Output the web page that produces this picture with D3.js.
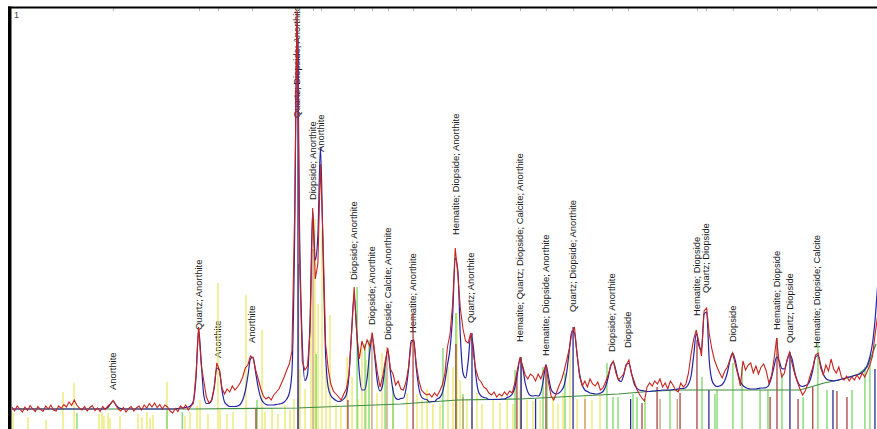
<!DOCTYPE html>
<html>
<head>
<meta charset="utf-8">
<script src="https://cdn.jsdelivr.net/npm/d3@7"></script>
<style>
  html, body { margin: 0; padding: 0; background: #fff; }
  svg { display: block; }
</style>
</head>
<body>
<svg id="chart" width="877" height="429"></svg>
<script>
// Scan grid: 2θ start and step in degrees
const scanStart = 10.0;
const scanStep = 0.15;

// Observed counts along the scan grid
const observed = [
  44,36,46,40,34,44,37,47,40,35,
  45,39,35,46,40,48,38,36,46,41,
  49,44,54,47,58,48,42,38,45,36,
  43,47,37,42,35,45,39,46,50,57,
  48,40,36,43,34,41,45,36,42,46,
  38,48,42,51,44,52,43,49,40,48,
  44,36,32,41,35,46,41,48,38,45,
  52,110,204,128,96,64,52,58,84,132,
  118,82,70,80,74,86,78,84,92,104,
  122,128,146,142,118,100,80,66,60,64,
  58,68,74,80,92,104,118,130,156,420,
  838,330,135,118,126,196,442,300,330,530,
  380,170,120,90,76,70,64,58,70,80,
  110,190,284,190,140,176,160,178,166,192,
  150,112,84,104,136,162,120,110,88,96,
  80,78,94,124,172,178,128,96,78,72,
  68,70,64,72,66,76,88,110,164,190,
  250,362,310,240,200,176,172,192,150,118,
  100,94,84,80,72,68,74,64,70,66,
  74,68,76,72,92,120,144,126,108,100,
  110,106,96,110,100,114,128,92,66,58,
  72,86,98,116,138,160,192,204,150,104,
  86,96,84,100,90,86,94,78,82,94,
  108,126,136,112,98,104,110,128,138,110,
  96,80,70,62,56,84,92,86,96,90,
  100,84,92,80,96,88,78,74,92,84,
  90,112,150,180,198,174,146,236,242,190,
  160,138,124,112,102,116,124,138,152,130,
  110,86,136,118,128,132,112,126,110,124,
  130,116,92,106,140,182,130,104,112,138,
  154,130,110,94,80,68,76,90,108,124,
  148,152,122,108,128,116,140,120,112,124,
  104,98,106,96,104,98,108,100,112,104,
  116,128,146,190,228
];

// Calculated (fitted) profile on the same grid
const calculated = [
  40,40,40,40,40,40,40,40,40,40,
  40,40,40,40,40,40,40,40,40,40,
  40,40,40,40,40,40,40,40,40,40,
  40,40,40,40,40,40,41,43,50,56,
  49,43,41,40,40,40,40,40,40,40,
  40,40,40,40,40,40,40,40,40,40,
  40,40,40,40,41,42,42,43,44,47,
  56,103,199,135,67,51,51,57,82,122,
  118,78,54,48,45,45,45,46,49,58,
  76,106,140,144,113,83,62,53,49,48,
  48,48,49,50,51,54,60,72,114,366,
  832,376,171,97,109,219,436,338,386,564,
  355,147,83,67,61,57,55,56,60,69,
  107,193,267,195,112,78,78,101,154,184,
  142,93,76,88,129,157,114,77,62,59,
  61,62,80,120,177,177,121,81,64,60,
  59,54,55,55,60,63,72,95,128,161,
  228,342,317,183,112,102,136,188,164,105,
  74,66,63,62,59,59,59,59,59,60,
  60,63,65,70,83,111,139,124,92,74,
  67,66,67,66,73,98,129,104,79,72,
  70,72,77,87,113,157,196,192,149,110,
  88,78,75,72,71,70,70,72,75,85,
  103,127,134,117,98,95,108,129,131,112,
  91,82,78,77,76,75,75,76,76,77,
  77,78,78,78,78,79,79,80,81,81,
  83,90,106,147,191,167,158,230,234,137,
  98,88,85,86,89,97,113,138,152,138,
  113,95,87,83,81,80,80,80,81,82,
  82,83,88,103,125,144,136,121,120,136,
  150,139,113,96,87,85,87,89,99,119,
  144,147,128,110,101,98,97,96,97,98,
  100,101,103,104,105,107,108,110,113,118,
  128,145,172,220,290
];

// Background anchor points [2θ, counts]
const background = [
  [10.0, 40], [20.5, 40], [26.5, 42], [32.5, 50], [35.8, 58], [39.4, 60],
  [42.8, 66], [45.1, 70], [46.8, 75], [48.5, 78], [55.6, 78], [57.0, 92],
  [58.1, 100], [59.0, 110], [59.5, 124], [60.0, 170]
];

// Reference patterns [2θ, scaled intensity]
const anorthite = [
  [10.06,32],[10.93,24],[11.97,18],[12.95,74],[13.59,92],[15.03,30],[15.21,34],[15.32,26],
  [15.56,32],[15.67,22],[16.25,26],[17.29,30],[17.52,24],[17.81,34],[17.99,22],[18.16,28],
  [18.97,94],[20.01,26],[20.30,34],[20.71,46],[20.88,58],[21.34,30],[21.92,292],[22.04,38],
  [22.44,30],[22.79,34],[23.54,268],[24.12,40],[24.47,198],[24.64,34],[25.05,42],[25.39,30],
  [25.80,48],[26.09,38],[26.32,60],[26.67,120],[26.96,80],[27.30,300],[27.53,420],[27.71,250],
  [27.94,400],[28.17,120],[28.40,228],[28.75,50],[29.04,44],[29.39,144],[29.68,104],[30.02,60],
  [30.25,164],[30.49,138],[31.12,72],[31.41,152],[32.05,84],[32.86,72],[33.44,70],[33.73,58],
  [34.02,80],[34.36,50],[34.77,50],[35.23,124],[35.52,124],[35.75,232],[35.93,98],[36.33,60],
  [36.62,44],[36.91,72],[37.20,50],[37.84,58],[38.24,52],[38.65,58],[38.99,50],[39.40,78],
  [39.80,58],[40.15,56],[40.56,58],[41.31,64],[41.60,50],[41.89,72],[42.29,158],[42.70,60],
  [43.16,66],[43.56,58],[44.03,72]
];
const diopside = [
  [13.76,32],[18.97,38],[19.85,34],[24.18,58],[26.55,60],[27.60,150],[29.97,284],[30.43,170],
  [30.66,178],[31.59,132],[32.05,84],[34.94,162],[35.69,232],[36.10,70],[39.11,118],[40.73,124],
  [40.96,110],[42.00,112],[44.43,132],[44.78,64],[45.07,64],[45.94,70],[46.17,64],[46.63,60],
  [48.08,78],[49.93,104],[50.68,70],[50.80,78],[51.72,132],[52.25,124],[53.29,78],[53.75,78],
  [54.56,112],[55.78,64],[56.64,172],[57.16,78],[58.61,78],[59.36,124],[59.65,132]
];
const hematite = [
  [24.12,40],[29.44,58],[33.21,232],[35.69,170],[39.22,112],[40.90,128],[46.46,52],[47.33,84],
  [48.66,72],[49.64,178],[53.87,64],[54.27,182],[55.49,60],[56.34,84],[57.74,76],[58.32,64]
];
const calcite = [
  [26.58,330],[27.42,360],[30.83,194],[31.70,164],[36.10,64],[39.46,140],[43.16,60],[47.50,60],[48.50,60]
];
const quartz = [
  [26.55,780],[36.62,192],[39.46,144],[40.30,60],[42.47,204],[45.80,60],[50.33,78],[55.02,154],
  [57.51,78],[59.94,120]
];

// Peak identifications: [2θ, annotation level (counts), phases]
const peakLabels = [
  [15.84, 78, "Anorthite"],
  [20.82, 198, "Quartz; Anorthite"],
  [21.92, 142, "Anorthite"],
  [23.89, 172, "Anorthite"],
  [26.49, 622, "Quartz; Diopside; Anorthite"],
  [27.42, 458, "Diopside; Anorthite"],
  [27.88, 554, "Anorthite"],
  [29.79, 298, "Diopside; Anorthite"],
  [30.83, 208, "Diopside; Anorthite"],
  [31.76, 178, "Diopside; Calcite; Anorthite"],
  [33.21, 192, "Hematite; Anorthite"],
  [35.69, 388, "Hematite; Diopside; Anorthite"],
  [36.56, 212, "Quartz; Anorthite"],
  [39.40, 174, "Hematite; Quartz; Diopside; Calcite; Anorthite"],
  [40.90, 146, "Hematite; Diopside; Anorthite"],
  [42.47, 234, "Quartz; Diopside; Anorthite"],
  [44.72, 154, "Diopside; Anorthite"],
  [45.65, 162, "Diopside"],
  [49.64, 226, "Hematite; Diopside"],
  [50.16, 272, "Quartz; Diopside"],
  [51.72, 174, "Diopside"],
  [54.27, 198, "Hematite; Diopside"],
  [55.02, 172, "Quartz; Diopside"],
  [56.59, 162, "Hematite; Diopside; Calcite"]
];

// ---------- drawing ----------
const svg = d3.select("#chart");
const x = d3.scaleLinear().domain([10, 60]).range([12, 876]);
const y = d3.scaleLinear().domain([0, 840]).range([429, 9]);

svg.append("defs").append("clipPath").attr("id", "plotClip")
  .append("rect").attr("x", 11).attr("y", 8).attr("width", 866).attr("height", 421);

const plot = svg.append("g").attr("clip-path", "url(#plotClip)");

// peak annotations sit underneath the traces
plot.append("g").selectAll("text").data(peakLabels).join("text")
  .attr("transform", d => `translate(${x(d[0])},${y(d[1])}) rotate(-90)`)
  .attr("dy", "0.35em")
  .attr("font-family", "'Liberation Sans', Arial, sans-serif")
  .attr("font-size", "9.4px")
  .attr("fill", "#151515")
  .text(d => d[2]);

// reference stick patterns
const phases = [
  { sticks: anorthite, color: "#ece866" },
  { sticks: diopside,  color: "#78d865" },
  { sticks: hematite,  color: "#a8423f" },
  { sticks: calcite,   color: "#c99a70" },
  { sticks: quartz,    color: "#2b2b8f" }
];
phases.forEach(p => {
  plot.append("g").selectAll("line").data(p.sticks).join("line")
    .attr("x1", d => x(d[0])).attr("x2", d => x(d[0]))
    .attr("y1", y(0)).attr("y2", d => y(d[1]))
    .attr("stroke", p.color).attr("stroke-width", 1.3);
});

const angleAt = i => scanStart + i * scanStep;

// background
plot.append("path").datum(background)
  .attr("fill", "none").attr("stroke", "#3f8c3f").attr("stroke-width", 1.2)
  .attr("d", d3.line().x(d => x(d[0])).y(d => y(d[1])));

// calculated profile
plot.append("path").datum(calculated)
  .attr("fill", "none").attr("stroke", "#2323a8").attr("stroke-width", 1.2)
  .attr("d", d3.line().curve(d3.curveMonotoneX).x((d, i) => x(angleAt(i))).y(d => y(d)));

// observed profile
plot.append("path").datum(observed)
  .attr("fill", "none").attr("stroke", "#c8241e").attr("stroke-width", 1.1)
  .attr("d", d3.line().x((d, i) => x(angleAt(i))).y(d => y(d)));

// peak position markers along the top edge
const topTicks = svg.append("g").attr("transform", "translate(0,8)")
  .call(d3.axisBottom(x).tickValues(peakLabels.map(d => d[0])).tickSize(3).tickFormat(""));
topTicks.select(".domain").remove();
topTicks.selectAll("line").attr("stroke", "#b5b5b5");

// frame
svg.append("rect").attr("x", 8).attr("y", 6.5).attr("width", 869).attr("height", 2).attr("fill", "#000");
svg.append("rect").attr("x", 8).attr("y", 6.5).attr("width", 3.5).attr("height", 423).attr("fill", "#000");

svg.append("text").attr("x", 14).attr("y", 18)
  .attr("font-family", "'Liberation Sans', Arial, sans-serif")
  .attr("font-size", "9px").attr("fill", "#444").text("1");
</script>
</body>
</html>
